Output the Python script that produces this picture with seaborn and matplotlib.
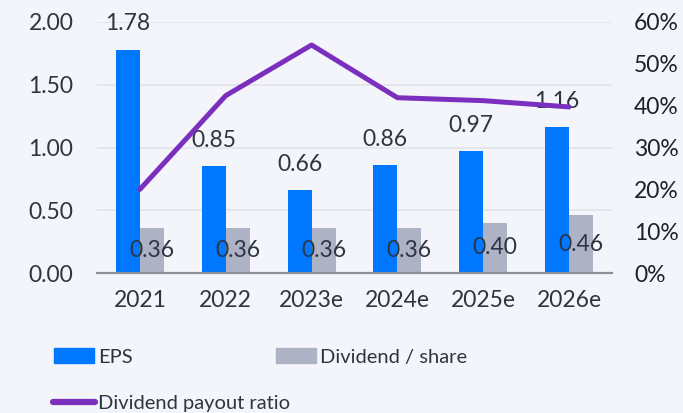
import numpy as np
import pandas as pd
import seaborn as sns
import matplotlib.pyplot as plt
from matplotlib.patches import Patch
from matplotlib.lines import Line2D

# values
years = ["2021", "2022", "2023e", "2024e", "2025e", "2026e"]
eps = [1.78, 0.85, 0.66, 0.86, 0.97, 1.16]
dividend = [0.36, 0.36, 0.36, 0.36, 0.40, 0.46]
payout = [0.20, 0.424, 0.545, 0.419, 0.412, 0.397]

BG = "#f4f5fb"
BLUE = "#0077ff"
GREY = "#adb2c5"
PURPLE = "#7b2fbe"
TXT = "#2f3540"
FS = 16.5

sns.set_theme(style="white")
plt.rcParams["font.family"] = ["Lato", "DejaVu Sans"]

bars = pd.DataFrame({
    "year": years * 2,
    "value": eps + dividend,
    "series": ["EPS"] * 6 + ["Dividend / share"] * 6,
})
line = pd.DataFrame({"year": years, "ratio": payout})

fig = plt.figure(figsize=(6.83, 4.13), dpi=100, facecolor=BG)
ax = fig.add_axes([97 / 683, 1 - 273 / 413, 515 / 683, 251 / 413])
ax.set_facecolor(BG)

sns.barplot(data=bars, x="year", y="value", hue="series", palette=[BLUE, GREY],
            width=0.56, linewidth=0, saturation=1, ax=ax, legend=False)
ax.set_xlim(-0.5, 5.5)
ax.set_ylim(0, 2.0)
ax.set_yticks([0, 0.5, 1.0, 1.5, 2.0])
ax.set_yticklabels([f"{v:.2f}" for v in [0, 0.5, 1.0, 1.5, 2.0]])
ax.grid(axis="y", color="#e1e3ea", linewidth=1.2)
ax.set_axisbelow(True)
ax.set_xlabel("")
ax.set_ylabel("")
for s in ["top", "left", "right"]:
    ax.spines[s].set_visible(False)
ax.spines["bottom"].set_color("#8c9099")
ax.spines["bottom"].set_linewidth(1.6)
ax.tick_params(axis="y", length=0, pad=17, labelsize=FS, labelcolor=TXT)
ax.tick_params(axis="x", length=0, pad=12, labelsize=FS, labelcolor=TXT)

ax.bar_label(ax.containers[0], fmt="%.2f", padding=11, fontsize=FS, color=TXT)
ax.bar_label(ax.containers[1], fmt="%.2f", label_type="center", fontsize=FS, color=TXT)

ax2 = ax.twinx()
sns.lineplot(data=line, x="year", y="ratio", color=PURPLE, linewidth=3.6,
             ax=ax2, legend=False)
ax2.set_ylim(0, 0.6)
ax2.set_yticks(np.arange(0, 0.61, 0.1))
ax2.set_yticklabels([f"{int(round(v * 100))}%" for v in np.arange(0, 0.61, 0.1)])
ax2.set_ylabel("")
ax2.grid(False)
for s in ax2.spines.values():
    s.set_visible(False)
ax2.tick_params(axis="y", length=0, pad=16, labelsize=FS, labelcolor="#1d2128")

# legend: bars on the first row, payout line on the second
bar_handles = [Patch(color=BLUE, label="EPS"), Patch(color=GREY, label="Dividend / share")]
leg1 = fig.legend(handles=bar_handles, ncol=2, loc="center left",
                  bbox_to_anchor=(54 / 683, 1 - 357 / 413), frameon=False,
                  fontsize=14.5, handlelength=2.0, handleheight=0.75, handletextpad=0.2,
                  columnspacing=7.1, borderpad=0, borderaxespad=0, labelcolor=TXT)
line_handle = [Line2D([], [], color=PURPLE, linewidth=4.5, solid_capstyle="round",
                      label="Dividend payout ratio")]
fig.legend(handles=line_handle, loc="center left",
           bbox_to_anchor=(53 / 683, 1 - 403 / 413), frameon=False,
           fontsize=14.5, handlelength=2.1, handletextpad=0.15,
           borderpad=0, borderaxespad=0, labelcolor=TXT)

fig.savefig("out.png", dpi=100, facecolor=BG)
